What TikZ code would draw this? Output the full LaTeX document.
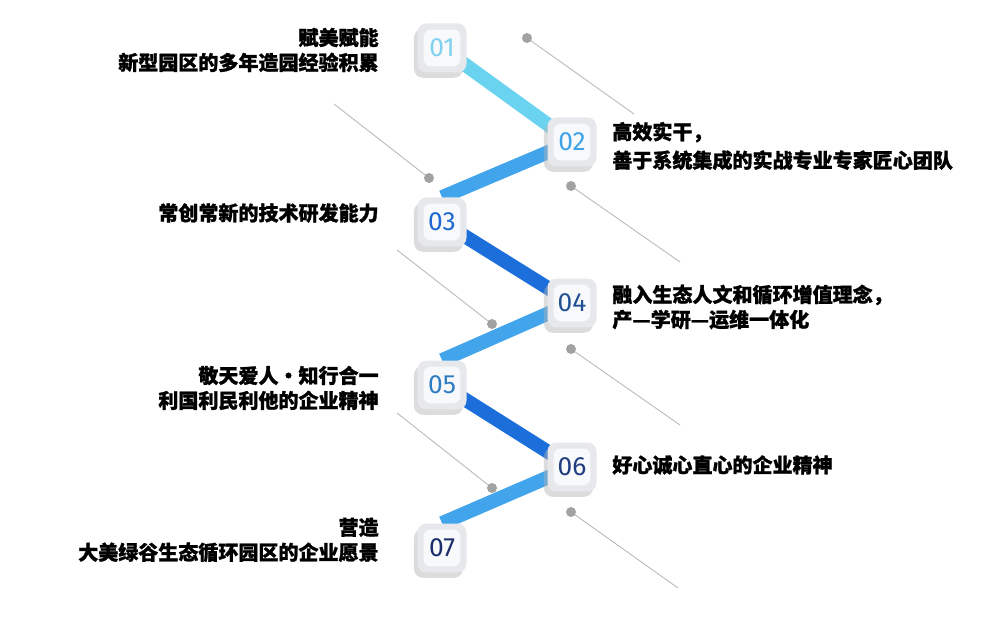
\documentclass[tikz,border=0pt]{standalone}
\usepackage{fontspec}
\newfontfamily\cjk{Noto Sans CJK SC}[BoldFeatures={FakeBold=1.2}]
\newfontfamily\numfont{Fira Sans}
\usetikzlibrary{calc,shadows,backgrounds}

\definecolor{bandtop}{HTML}{6AD3F0}
\definecolor{bandup}{HTML}{42A5EC}
\definecolor{banddown}{HTML}{1C6FDB}
\definecolor{boxouter}{HTML}{E6E8EC}
\definecolor{boxinner}{HTML}{F8F9FB}
\definecolor{dotgray}{HTML}{A2A2A2}
\definecolor{num1}{HTML}{7FD2EF}
\definecolor{num2}{HTML}{3FA3E8}
\definecolor{num3}{HTML}{1F68D2}
\definecolor{num4}{HTML}{234F94}
\definecolor{num5}{HTML}{2E7CC4}
\definecolor{num6}{HTML}{1F3C80}
\definecolor{num7}{HTML}{1B2E6B}

\tikzset{
  numbox/.style={minimum size=0.98cm, inner sep=0pt, rounded corners=5pt,
    fill=boxouter,
    drop shadow={shadow xshift=-2pt, shadow yshift=-3pt, fill=black!30, opacity=0.45},
    path picture={\fill[boxinner, rounded corners=4pt]
      ($(path picture bounding box.south west)+(3.5pt,3.5pt)$) rectangle
      ($(path picture bounding box.north east)-(3.5pt,3.5pt)$);},
    font=\numfont\fontsize{15}{15}\selectfont},
  band/.style={line width=0.28cm},
  guide/.style={draw=gray!55, line width=0.5pt},
  dot/.style={fill=dotgray},
  lefttext/.style={anchor=east, align=right, inner sep=0pt,
    font=\cjk\bfseries\fontsize{11.4}{14.2}\selectfont},
  righttext/.style={anchor=west, align=left, inner sep=0pt,
    font=\cjk\bfseries\fontsize{11.4}{14.2}\selectfont}
}

\begin{document}
\begin{tikzpicture}[x=0.02cm, y=-0.02cm]
    \useasboundingbox (0,0) rectangle (1000,617);

    % Guide lines with dots
    \coordinate (d1) at (527,38);  \coordinate (e1) at (634,114);
    \coordinate (e2) at (334,104); \coordinate (d2) at (429,178);
    \coordinate (d3) at (571,186); \coordinate (e3) at (680,262);
    \coordinate (e4) at (397,250); \coordinate (d4) at (492,324);
    \coordinate (d5) at (571,349); \coordinate (e5) at (680,425);
    \coordinate (e6) at (397,413); \coordinate (d6) at (492,488);
    \coordinate (d7) at (571,512); \coordinate (e7) at (678,588);
    \foreach \i in {1,...,7} {
        \draw[guide] (d\i) -- (e\i);
        \fill[dot] (d\i) circle (0.1cm);
    }

    % Number boxes
    \node[numbox, text=num1] (b1) at (442,48)  {01};
    \node[numbox, text=num2] (b2) at (572,142) {02};
    \node[numbox, text=num3] (b3) at (442,222) {03};
    \node[numbox, text=num4] (b4) at (572,303) {04};
    \node[numbox, text=num5] (b5) at (442,385) {05};
    \node[numbox, text=num6] (b6) at (572,467) {06};
    \node[numbox, text=num7] (b7) at (442,548) {07};

    % Zigzag bands behind the boxes
    \begin{scope}[on background layer]
        \draw[band, bandtop]  (b1.center) -- (b2.center);
        \draw[band, bandup]   (b2.center) -- (b3.north);
        \draw[band, banddown] (b3.center) -- (b4.center);
        \draw[band, bandup]   (b4.center) -- (b5.north);
        \draw[band, banddown] (b5.center) -- (b6.center);
        \draw[band, bandup]   (b6.center) -- (b7.north);
    \end{scope}

    % Left texts
    \node[lefttext] (t1) at (379,50)  {赋美赋能\\新型园区的多年造园经验积累};
    \node[lefttext] (t3) at (379,213) {常创常新的技术研发能力};
    \node[lefttext] (t5) at (379,388) {敬天爱人・知行合一\\利国利民利他的企业精神};
    \node[lefttext] (t7) at (379,540) {营造\\大美绿谷生态循环园区的企业愿景};

    % Right texts
    \node[righttext] (t2) at (612,146) {高效实干，\\[2pt]善于系统集成的实战专业专家匠心团队};
    \node[righttext] (t4) at (612,307) {融入生态人文和循环增值理念，\\产—学研—运维一体化};
    \node[righttext] (t6) at (612,465) {好心诚心直心的企业精神};
\end{tikzpicture}
\end{document}
